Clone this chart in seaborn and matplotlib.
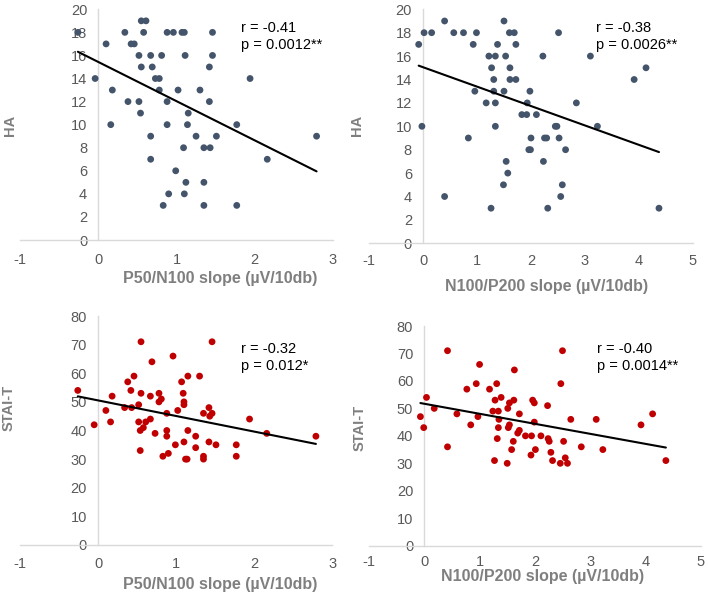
import numpy as np
import pandas as pd
import matplotlib
matplotlib.use("Agg")
import matplotlib.pyplot as plt
import seaborn as sns

# ---- data ----
# top left: HA vs P50/N100 slope
p50_x_top = [-0.26, 0.10, -0.04, 0.18, 0.16, 0.34, 0.38, 0.42, 0.46, 0.52, 0.52, 0.54, 0.55, 0.55,
             0.61, 0.58, 0.67, 0.69, 0.67, 0.67, 0.73, 0.78, 0.78, 0.81, 0.83, 0.88, 0.96, 0.88,
             0.88, 0.90, 0.99, 1.02, 1.07, 1.10, 1.11, 1.15, 1.14, 1.09, 1.12, 1.10, 1.25, 1.30,
             1.35, 1.43, 1.35, 1.35, 1.42, 1.42, 1.46, 1.46, 1.51, 1.77, 1.77, 1.94, 2.16, 2.79]
ha_p50 = [18, 17, 14, 13, 10, 18, 12, 17, 17, 16, 12, 11, 15, 19,
          19, 18, 16, 15, 9, 7, 14, 14, 13, 16, 3, 18, 18, 12,
          10, 4, 6, 13, 18, 18, 16, 11, 10, 8, 5, 4, 9, 13,
          8, 8, 5, 3, 15, 12, 18, 16, 9, 10, 3, 14, 7, 9]

# top right: HA vs N100/P200 slope
n100_x_top = [-0.08, 0.02, 0.16, -0.02, 0.40, 0.40, 0.57, 0.75, 0.93, 0.99, 0.96, 0.84, 1.17, 1.22,
              1.34, 1.27, 1.31, 1.31, 1.34, 1.34, 1.38, 1.26, 1.50, 1.50, 1.53, 1.49, 1.54, 1.57,
              1.60, 1.69, 1.61, 1.61, 1.72, 1.72, 1.83, 1.92, 1.93, 1.98, 2.00, 1.96, 1.99, 2.10,
              2.22, 2.23, 2.25, 2.29, 2.31, 2.45, 2.48, 2.51, 2.52, 2.64, 2.58, 2.55, 2.84, 3.10,
              3.23, 3.91, 4.13, 4.37]
ha_n100 = [17, 18, 18, 10, 19, 4, 18, 18, 17, 18, 13, 9, 12, 16,
           16, 15, 14, 13, 12, 10, 17, 3, 19, 13, 16, 5, 7, 6,
           18, 18, 15, 14, 17, 14, 11, 11, 12, 13, 9, 8, 8, 11,
           16, 7, 9, 9, 3, 10, 10, 18, 9, 8, 5, 4, 12, 16,
           10, 14, 15, 3]

# bottom left: STAI-T vs P50/N100 slope
p50_x_bot = [-0.26, -0.05, 0.10, 0.16, 0.18, 0.34, 0.38, 0.42, 0.43, 0.46, 0.52, 0.52, 0.55, 0.55,
             0.54, 0.54, 0.58, 0.61, 0.67, 0.67, 0.69, 0.73, 0.78, 0.78, 0.81, 0.83, 0.88, 0.88,
             0.88, 0.90, 0.96, 0.99, 1.02, 1.07, 1.09, 1.10, 1.10, 1.15, 1.15, 1.10, 1.12, 1.14,
             1.25, 1.25, 1.30, 1.35, 1.35, 1.35, 1.42, 1.43, 1.46, 1.42, 1.46, 1.51, 1.77, 1.77,
             1.94, 2.16, 2.79]
stai_p50 = [54, 42, 47, 43, 52, 48, 57, 54, 48, 59, 49, 43, 71, 53,
            40, 33, 41, 43, 52, 44, 64, 39, 53, 50, 51, 31, 46, 40,
            38, 32, 66, 35, 47, 57, 53, 50, 49, 59, 40, 36, 30, 30,
            38, 34, 59, 46, 31, 30, 48, 45, 46, 36, 71, 35, 35, 31,
            44, 39, 38]

# bottom right: STAI-T vs N100/P200 slope
n100_x_bot = [-0.07, -0.01, 0.04, 0.18, 0.42, 0.42, 0.59, 0.77, 0.84, 0.94, 0.97, 1.00, 1.18, 1.24,
              1.28, 1.27, 1.31, 1.34, 1.35, 1.34, 1.32, 1.39, 1.50, 1.51, 1.54, 1.62, 1.52, 1.54,
              1.63, 1.61, 1.58, 1.72, 1.69, 1.72, 1.83, 1.94, 1.93, 1.96, 1.99, 1.99, 2.01, 2.11,
              2.23, 2.24, 2.26, 2.29, 2.32, 2.46, 2.47, 2.50, 2.52, 2.55, 2.59, 2.65, 2.84, 3.11,
              3.23, 3.92, 4.13, 4.37]
stai_n100 = [47, 43, 54, 50, 71, 36, 48, 57, 44, 59, 47, 66, 57, 49,
             53, 31, 59, 49, 46, 43, 39, 54, 30, 50, 52, 53, 43, 44,
             64, 38, 35, 48, 41, 42, 40, 40, 33, 53, 52, 45, 35, 40,
             51, 39, 38, 34, 31, 30, 59, 71, 38, 32, 30, 46, 36, 46,
             35, 44, 48, 31]

xlabels = ["P50/N100 slope (µV/10db)", "N100/P200 slope (µV/10db)"]
stats_text = [("r = -0.41", "p = 0.0012**"), ("r = -0.38", "p = 0.0026**"),
              ("r = -0.32", "p = 0.012*"), ("r = -0.40", "p = 0.0014**")]

sns.set_style("white")
plt.rcParams["font.family"] = ["Liberation Sans", "DejaVu Sans"]
plt.rcParams["axes.unicode_minus"] = False

W, H = 708, 597
fig = plt.figure(figsize=(W / 100, H / 100), dpi=100)

def px_axes(x0, x1, ytop, ybot):
    return fig.add_axes([x0 / W, 1 - ybot / H, (x1 - x0) / W, (ybot - ytop) / H])

panels = [
    dict(ax=px_axes(20, 333, 9.3, 240), x=p50_x_top, y=ha_p50, col="#44546A",
         xlim=(-1, 3), ylim=(0, 20), yt=np.arange(0, 21, 2), xt=range(-1, 4), xpad=9.5,
         ylab="HA", ylab_xy=(10, 125), xlab=xlabels[0], xlab_xy=(220, 279), st_xy=(241, 28)),
    dict(ax=px_axes(369, 693, 9.3, 243.3), x=n100_x_top, y=ha_n100, col="#44546A",
         xlim=(-1, 5), ylim=(0, 20), yt=np.arange(0, 21, 2), xt=range(-1, 6), xpad=7.5,
         ylab="HA", ylab_xy=(357, 125), xlab=xlabels[1], xlab_xy=(547, 286), st_xy=(596, 28)),
    dict(ax=px_axes(20, 332.3, 316, 545), x=p50_x_bot, y=stai_p50, col="#C00000",
         xlim=(-1, 3), ylim=(0, 80), yt=np.arange(0, 81, 10), xt=range(-1, 4), xpad=8.5,
         ylab="STAI-T", ylab_xy=(9, 408), xlab=xlabels[0], xlab_xy=(220, 585), st_xy=(241, 349)),
    dict(ax=px_axes(369, 700.7, 326, 545.7), x=n100_x_bot, y=stai_n100, col="#C00000",
         xlim=(-1, 5), ylim=(0, 80), yt=np.arange(0, 81, 10), xt=range(-1, 6), xpad=6.5,
         ylab="STAI-T", ylab_xy=(360, 428), xlab=xlabels[1], xlab_xy=(543, 577), st_xy=(597, 349)),
]

for i, p in enumerate(panels):
    ax = p["ax"]
    df = pd.DataFrame({"x": p["x"], "y": p["y"]})
    sns.scatterplot(data=df, x="x", y="y", ax=ax, color=p["col"], s=24,
                    edgecolor="none", zorder=3)
    sns.regplot(data=df, x="x", y="y", ax=ax, scatter=False, ci=None,
                line_kws=dict(color="black", lw=1.5, zorder=4))
    ax.set_xlim(*p["xlim"])
    ax.set_ylim(*p["ylim"])
    ax.set_xticks(list(p["xt"]))
    ax.set_yticks(p["yt"])
    ax.set_xlabel("")
    ax.set_ylabel("")
    # Excel-style axes crossing at zero
    ax.spines["left"].set_position(("data", 0))
    ax.spines["bottom"].set_position(("data", 0))
    for s in ("top", "right"):
        ax.spines[s].set_visible(False)
    for s in ("left", "bottom"):
        ax.spines[s].set_color("#d9d9d9")
        ax.spines[s].set_linewidth(1.0)
    ax.tick_params(axis="both", length=0, labelsize=10.5, labelcolor="#595959")
    ax.tick_params(axis="y", pad=8)
    ax.tick_params(axis="x", pad=p["xpad"])
    ax.patch.set_alpha(0)

    fig.text(p["ylab_xy"][0] / W, 1 - p["ylab_xy"][1] / H, p["ylab"], rotation=90,
             ha="center", va="center", fontsize=10.5, fontweight="bold", color="#7f7f7f")
    fig.text(p["xlab_xy"][0] / W, 1 - p["xlab_xy"][1] / H, p["xlab"],
             ha="center", va="center", fontsize=11.5, fontweight="bold", color="#7f7f7f")
    r_txt, p_txt = stats_text[i]
    sx, sy = p["st_xy"]
    fig.text(sx / W, 1 - sy / H, r_txt, ha="left", va="center", fontsize=10.5, color="black")
    fig.text(sx / W, 1 - (sy + 17) / H, p_txt, ha="left", va="center", fontsize=10.5, color="black")

fig.savefig("out.png", dpi=100)
